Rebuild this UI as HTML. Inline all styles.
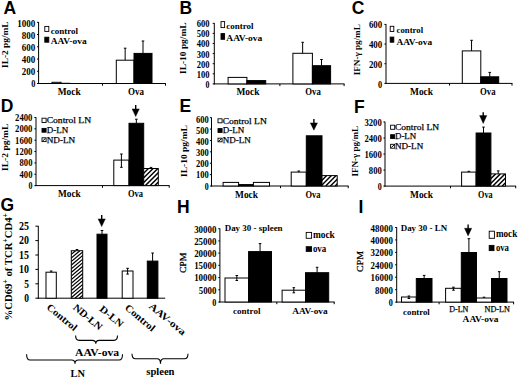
<!DOCTYPE html>
<html><head><meta charset="utf-8"><style>
html,body{margin:0;padding:0;background:#fff;width:520px;height:378px;overflow:hidden}
svg{display:block}
</style></head><body>
<svg width="520" height="378" viewBox="0 0 520 378">
<defs>
<pattern id="hatch" patternUnits="userSpaceOnUse" width="3.3" height="3.3" patternTransform="rotate(45)">
<rect width="3.3" height="3.3" fill="#fff"/><rect x="0" y="0" width="1.65" height="3.3" fill="#000"/>
</pattern>
<pattern id="hatchG" patternUnits="userSpaceOnUse" width="2.75" height="2.75" patternTransform="rotate(50)">
<rect width="2.75" height="2.75" fill="#fff"/><rect x="0" y="0" width="1.35" height="2.75" fill="#000"/>
</pattern>
</defs>
<rect width="520" height="378" fill="#fff"/>
<g font-family="'Liberation Serif', serif" font-weight="bold" fill="#000">
<text x="3.60" y="13.50" font-size="17.5" font-family="'Liberation Sans', sans-serif" >A</text>
<text x="8.00" y="44.65" font-size="9" text-anchor="middle" textLength="46.5" lengthAdjust="spacingAndGlyphs" transform="rotate(-90 8.00 44.65)" >IL-2 pg/mL</text>
<line x1="38.60" y1="22.00" x2="38.60" y2="84.00" stroke="#000" stroke-width="1"/>
<line x1="38.10" y1="83.50" x2="165.90" y2="83.50" stroke="#000" stroke-width="1"/>
<line x1="37.00" y1="83.50" x2="38.60" y2="83.50" stroke="#000" stroke-width="1"/>
<text x="35.33" y="86.90" font-size="10.14" text-anchor="end" textLength="4.19" lengthAdjust="spacingAndGlyphs" >0</text>
<line x1="37.00" y1="71.26" x2="38.60" y2="71.26" stroke="#000" stroke-width="1"/>
<text x="35.33" y="74.83" font-size="10.14" text-anchor="end" textLength="13.49" lengthAdjust="spacingAndGlyphs" >200</text>
<line x1="37.00" y1="59.02" x2="38.60" y2="59.02" stroke="#000" stroke-width="1"/>
<text x="35.33" y="62.76" font-size="10.14" text-anchor="end" textLength="13.49" lengthAdjust="spacingAndGlyphs" >400</text>
<line x1="37.00" y1="46.78" x2="38.60" y2="46.78" stroke="#000" stroke-width="1"/>
<text x="35.33" y="50.69" font-size="10.14" text-anchor="end" textLength="13.49" lengthAdjust="spacingAndGlyphs" >600</text>
<line x1="37.00" y1="34.54" x2="38.60" y2="34.54" stroke="#000" stroke-width="1"/>
<text x="35.33" y="38.62" font-size="10.14" text-anchor="end" textLength="13.49" lengthAdjust="spacingAndGlyphs" >800</text>
<line x1="37.00" y1="22.30" x2="38.60" y2="22.30" stroke="#000" stroke-width="1"/>
<text x="35.33" y="26.55" font-size="10.14" text-anchor="end" textLength="18.14" lengthAdjust="spacingAndGlyphs" >1000</text>
<line x1="102.50" y1="83.50" x2="102.50" y2="85.70" stroke="#000" stroke-width="1"/>
<line x1="165.50" y1="83.50" x2="165.50" y2="85.70" stroke="#000" stroke-width="1"/>
<rect x="52.00" y="82.30" width="9.00" height="1.20" fill="#fff" stroke="#000" stroke-width="1"/>
<rect x="61.00" y="83.30" width="9.00" height="0.20" fill="#000" stroke="#000" stroke-width="1"/>
<rect x="116.30" y="60.20" width="17.70" height="23.30" fill="#fff" stroke="#000" stroke-width="1"/>
<line x1="125.15" y1="60.20" x2="125.15" y2="48.20" stroke="#000" stroke-width="1"/>
<line x1="123.85" y1="48.20" x2="126.45" y2="48.20" stroke="#000" stroke-width="1"/>
<rect x="134.00" y="53.40" width="18.00" height="30.10" fill="#000" stroke="#000" stroke-width="1"/>
<line x1="143.00" y1="53.40" x2="143.00" y2="41.00" stroke="#000" stroke-width="1"/>
<line x1="141.70" y1="41.00" x2="144.30" y2="41.00" stroke="#000" stroke-width="1"/>
<text x="69.20" y="94.70" font-size="9.8" text-anchor="middle" textLength="23" lengthAdjust="spacingAndGlyphs" >Mock</text>
<text x="136.00" y="94.70" font-size="9.8" text-anchor="middle" textLength="16" lengthAdjust="spacingAndGlyphs" >Ova</text>
<rect x="44.80" y="26.40" width="4.00" height="5.00" fill="#fff" stroke="#000" stroke-width="0.9"/>
<text x="50.80" y="33.50" font-size="9" textLength="27.3" lengthAdjust="spacingAndGlyphs" >control</text>
<rect x="44.80" y="37.20" width="4.00" height="5.00" fill="#000" stroke="#000" stroke-width="0.9"/>
<text x="50.80" y="44.20" font-size="9" textLength="35.8" lengthAdjust="spacingAndGlyphs" >AAV-ova</text>
<text x="179.60" y="13.60" font-size="17.5" font-family="'Liberation Sans', sans-serif" >B</text>
<text x="185.80" y="48.20" font-size="9" text-anchor="middle" textLength="51.6" lengthAdjust="spacingAndGlyphs" transform="rotate(-90 185.80 48.20)" >IL-10 pg/mL</text>
<line x1="214.30" y1="23.00" x2="214.30" y2="84.40" stroke="#000" stroke-width="1"/>
<line x1="213.80" y1="83.90" x2="344.50" y2="83.90" stroke="#000" stroke-width="1"/>
<line x1="212.70" y1="83.90" x2="214.30" y2="83.90" stroke="#000" stroke-width="1"/>
<text x="209.56" y="87.76" font-size="9.59" text-anchor="end" textLength="3.96" lengthAdjust="spacingAndGlyphs" >0</text>
<line x1="212.70" y1="73.80" x2="214.30" y2="73.80" stroke="#000" stroke-width="1"/>
<text x="209.56" y="77.69" font-size="9.59" text-anchor="end" textLength="12.76" lengthAdjust="spacingAndGlyphs" >100</text>
<line x1="212.70" y1="63.70" x2="214.30" y2="63.70" stroke="#000" stroke-width="1"/>
<text x="209.56" y="67.61" font-size="9.59" text-anchor="end" textLength="12.76" lengthAdjust="spacingAndGlyphs" >200</text>
<line x1="212.70" y1="53.60" x2="214.30" y2="53.60" stroke="#000" stroke-width="1"/>
<text x="209.56" y="57.54" font-size="9.59" text-anchor="end" textLength="12.76" lengthAdjust="spacingAndGlyphs" >300</text>
<line x1="212.70" y1="43.50" x2="214.30" y2="43.50" stroke="#000" stroke-width="1"/>
<text x="209.56" y="47.46" font-size="9.59" text-anchor="end" textLength="12.76" lengthAdjust="spacingAndGlyphs" >400</text>
<line x1="212.70" y1="33.40" x2="214.30" y2="33.40" stroke="#000" stroke-width="1"/>
<text x="209.56" y="37.39" font-size="9.59" text-anchor="end" textLength="12.76" lengthAdjust="spacingAndGlyphs" >500</text>
<line x1="212.70" y1="23.30" x2="214.30" y2="23.30" stroke="#000" stroke-width="1"/>
<text x="209.56" y="27.31" font-size="9.59" text-anchor="end" textLength="12.76" lengthAdjust="spacingAndGlyphs" >600</text>
<line x1="279.90" y1="83.90" x2="279.90" y2="86.10" stroke="#000" stroke-width="1"/>
<line x1="344.10" y1="83.90" x2="344.10" y2="86.10" stroke="#000" stroke-width="1"/>
<rect x="228.10" y="77.40" width="18.80" height="6.50" fill="#fff" stroke="#000" stroke-width="1"/>
<rect x="246.90" y="80.60" width="18.80" height="3.30" fill="#000" stroke="#000" stroke-width="1"/>
<rect x="292.90" y="53.30" width="19.50" height="30.60" fill="#fff" stroke="#000" stroke-width="1"/>
<line x1="302.65" y1="53.30" x2="302.65" y2="42.30" stroke="#000" stroke-width="1"/>
<line x1="301.35" y1="42.30" x2="303.95" y2="42.30" stroke="#000" stroke-width="1"/>
<rect x="312.40" y="65.70" width="18.20" height="18.20" fill="#000" stroke="#000" stroke-width="1"/>
<line x1="321.50" y1="65.70" x2="321.50" y2="59.50" stroke="#000" stroke-width="1"/>
<line x1="320.20" y1="59.50" x2="322.80" y2="59.50" stroke="#000" stroke-width="1"/>
<text x="247.90" y="94.50" font-size="9.8" text-anchor="middle" textLength="23" lengthAdjust="spacingAndGlyphs" >Mock</text>
<text x="313.00" y="94.50" font-size="9.8" text-anchor="middle" textLength="15.5" lengthAdjust="spacingAndGlyphs" >Ova</text>
<rect x="221.00" y="21.60" width="3.60" height="6.00" fill="#fff" stroke="#000" stroke-width="0.9"/>
<text x="226.30" y="28.60" font-size="9" textLength="27.2" lengthAdjust="spacingAndGlyphs" >control</text>
<rect x="221.00" y="33.60" width="3.60" height="5.70" fill="#000" stroke="#000" stroke-width="0.9"/>
<text x="226.30" y="40.50" font-size="9" textLength="36" lengthAdjust="spacingAndGlyphs" >AAV-ova</text>
<text x="351.80" y="13.60" font-size="17.5" font-family="'Liberation Sans', sans-serif" >C</text>
<text x="360.30" y="49.75" font-size="9" text-anchor="middle" textLength="50.9" lengthAdjust="spacingAndGlyphs" transform="rotate(-90 360.30 49.75)" >IFN-γ pg/mL</text>
<line x1="386.00" y1="24.10" x2="386.00" y2="83.90" stroke="#000" stroke-width="1"/>
<line x1="385.50" y1="83.40" x2="512.40" y2="83.40" stroke="#000" stroke-width="1"/>
<line x1="384.40" y1="83.40" x2="386.00" y2="83.40" stroke="#000" stroke-width="1"/>
<text x="382.24" y="87.61" font-size="10.03" text-anchor="end" textLength="4.14" lengthAdjust="spacingAndGlyphs" >0</text>
<line x1="384.40" y1="63.73" x2="386.00" y2="63.73" stroke="#000" stroke-width="1"/>
<text x="382.24" y="67.68" font-size="10.03" text-anchor="end" textLength="13.34" lengthAdjust="spacingAndGlyphs" >200</text>
<line x1="384.40" y1="44.07" x2="386.00" y2="44.07" stroke="#000" stroke-width="1"/>
<text x="382.24" y="47.74" font-size="10.03" text-anchor="end" textLength="13.34" lengthAdjust="spacingAndGlyphs" >400</text>
<line x1="384.40" y1="24.40" x2="386.00" y2="24.40" stroke="#000" stroke-width="1"/>
<text x="382.24" y="27.81" font-size="10.03" text-anchor="end" textLength="13.34" lengthAdjust="spacingAndGlyphs" >600</text>
<line x1="449.50" y1="83.40" x2="449.50" y2="85.60" stroke="#000" stroke-width="1"/>
<line x1="512.00" y1="83.40" x2="512.00" y2="85.60" stroke="#000" stroke-width="1"/>
<rect x="462.30" y="50.90" width="18.50" height="32.50" fill="#fff" stroke="#000" stroke-width="1"/>
<line x1="471.55" y1="50.90" x2="471.55" y2="40.30" stroke="#000" stroke-width="1"/>
<line x1="470.25" y1="40.30" x2="472.85" y2="40.30" stroke="#000" stroke-width="1"/>
<rect x="480.80" y="76.80" width="17.90" height="6.60" fill="#000" stroke="#000" stroke-width="1"/>
<line x1="489.75" y1="76.80" x2="489.75" y2="72.40" stroke="#000" stroke-width="1"/>
<line x1="488.45" y1="72.40" x2="491.05" y2="72.40" stroke="#000" stroke-width="1"/>
<text x="421.50" y="94.50" font-size="9.8" text-anchor="middle" textLength="23" lengthAdjust="spacingAndGlyphs" >Mock</text>
<text x="487.80" y="94.50" font-size="9.8" text-anchor="middle" textLength="15.5" lengthAdjust="spacingAndGlyphs" >Ova</text>
<rect x="390.20" y="26.30" width="3.60" height="5.20" fill="#fff" stroke="#000" stroke-width="0.9"/>
<text x="396.50" y="32.50" font-size="9" textLength="26.6" lengthAdjust="spacingAndGlyphs" >control</text>
<rect x="390.20" y="37.10" width="3.60" height="5.10" fill="#000" stroke="#000" stroke-width="0.9"/>
<text x="396.50" y="44.60" font-size="9" textLength="35.6" lengthAdjust="spacingAndGlyphs" >AAV-ova</text>
<text x="0.80" y="112.00" font-size="17.5" font-family="'Liberation Sans', sans-serif" >D</text>
<text x="8.00" y="147.30" font-size="9" text-anchor="middle" textLength="47.4" lengthAdjust="spacingAndGlyphs" transform="rotate(-90 8.00 147.30)" >IL-2 pg/mL</text>
<line x1="36.00" y1="117.20" x2="36.00" y2="186.10" stroke="#000" stroke-width="1"/>
<line x1="35.50" y1="185.60" x2="169.60" y2="185.60" stroke="#000" stroke-width="1"/>
<line x1="34.40" y1="185.60" x2="36.00" y2="185.60" stroke="#000" stroke-width="1"/>
<text x="32.45" y="188.85" font-size="9.7" text-anchor="end" textLength="4.00" lengthAdjust="spacingAndGlyphs" >0</text>
<line x1="34.40" y1="174.25" x2="36.00" y2="174.25" stroke="#000" stroke-width="1"/>
<text x="32.45" y="177.52" font-size="9.7" text-anchor="end" textLength="12.91" lengthAdjust="spacingAndGlyphs" >400</text>
<line x1="34.40" y1="162.90" x2="36.00" y2="162.90" stroke="#000" stroke-width="1"/>
<text x="32.45" y="166.18" font-size="9.7" text-anchor="end" textLength="12.91" lengthAdjust="spacingAndGlyphs" >800</text>
<line x1="34.40" y1="151.55" x2="36.00" y2="151.55" stroke="#000" stroke-width="1"/>
<text x="32.45" y="154.85" font-size="9.7" text-anchor="end" textLength="17.36" lengthAdjust="spacingAndGlyphs" >1200</text>
<line x1="34.40" y1="140.20" x2="36.00" y2="140.20" stroke="#000" stroke-width="1"/>
<text x="32.45" y="143.52" font-size="9.7" text-anchor="end" textLength="17.36" lengthAdjust="spacingAndGlyphs" >1600</text>
<line x1="34.40" y1="128.85" x2="36.00" y2="128.85" stroke="#000" stroke-width="1"/>
<text x="32.45" y="132.18" font-size="9.7" text-anchor="end" textLength="17.36" lengthAdjust="spacingAndGlyphs" >2000</text>
<line x1="34.40" y1="117.50" x2="36.00" y2="117.50" stroke="#000" stroke-width="1"/>
<text x="32.45" y="120.85" font-size="9.7" text-anchor="end" textLength="17.36" lengthAdjust="spacingAndGlyphs" >2400</text>
<line x1="102.50" y1="185.60" x2="102.50" y2="187.80" stroke="#000" stroke-width="1"/>
<line x1="169.20" y1="185.60" x2="169.20" y2="187.80" stroke="#000" stroke-width="1"/>
<rect x="113.80" y="160.10" width="15.20" height="25.50" fill="#fff" stroke="#000" stroke-width="1"/>
<line x1="121.40" y1="160.10" x2="121.40" y2="154.00" stroke="#000" stroke-width="1"/>
<line x1="120.10" y1="154.00" x2="122.70" y2="154.00" stroke="#000" stroke-width="1"/>
<line x1="121.40" y1="160.10" x2="121.40" y2="167.30" stroke="#000" stroke-width="1"/>
<line x1="120.10" y1="167.30" x2="122.70" y2="167.30" stroke="#000" stroke-width="1"/>
<rect x="129.00" y="123.30" width="14.70" height="62.30" fill="#000" stroke="#000" stroke-width="1"/>
<line x1="136.35" y1="123.30" x2="136.35" y2="119.20" stroke="#000" stroke-width="1"/>
<line x1="135.05" y1="119.20" x2="137.65" y2="119.20" stroke="#000" stroke-width="1"/>
<clipPath id="c1"><rect x="143.70" y="168.50" width="14.60" height="17.10"/></clipPath>
<rect x="143.70" y="168.50" width="14.60" height="17.10" fill="#fff"/>
<path clip-path="url(#c1)" d="M121.90,185.60 L139.00,168.50 M126.60,185.60 L143.70,168.50 M131.30,185.60 L148.40,168.50 M136.00,185.60 L153.10,168.50 M140.70,185.60 L157.80,168.50 M145.40,185.60 L162.50,168.50 M150.10,185.60 L167.20,168.50 M154.80,185.60 L171.90,168.50 M159.50,185.60 L176.60,168.50" stroke="#000" stroke-width="1.43" fill="none"/>
<rect x="143.70" y="168.50" width="14.60" height="17.10" fill="none" stroke="#000" stroke-width="1"/>
<line x1="151.00" y1="168.50" x2="151.00" y2="167.40" stroke="#000" stroke-width="1"/>
<line x1="149.70" y1="167.40" x2="152.30" y2="167.40" stroke="#000" stroke-width="1"/>
<line x1="135.70" y1="105.00" x2="135.70" y2="109.90" stroke="#000" stroke-width="1.4"/>
<path d="M132.10,108.90 L139.30,108.90 L135.70,116.60 Z" fill="#000" stroke="#000" stroke-width="0.4"/>
<text x="69.40" y="196.80" font-size="9.8" text-anchor="middle" textLength="22.8" lengthAdjust="spacingAndGlyphs" >Mock</text>
<text x="135.50" y="196.80" font-size="9.8" text-anchor="middle" textLength="15" lengthAdjust="spacingAndGlyphs" >Ova</text>
<rect x="42.00" y="118.20" width="4.10" height="4.30" fill="#fff" stroke="#000" stroke-width="0.9"/>
<text x="46.70" y="123.40" font-size="9" font-weight="normal" textLength="44.4" lengthAdjust="spacingAndGlyphs" stroke="#000" stroke-width="0.25">Control LN</text>
<rect x="42.00" y="128.40" width="4.10" height="3.80" fill="#000" stroke="#000" stroke-width="0.9"/>
<text x="46.70" y="132.60" font-size="9" font-weight="normal" textLength="21.5" lengthAdjust="spacingAndGlyphs" stroke="#000" stroke-width="0.25">D-LN</text>
<rect x="42.00" y="137.80" width="4.10" height="3.80" fill="#fff" stroke="#000" stroke-width="0.9"/>
<line x1="42.60" y1="141.00" x2="45.50" y2="138.40" stroke="#000" stroke-width="1.0"/>
<text x="46.70" y="142.80" font-size="9" font-weight="normal" textLength="28.5" lengthAdjust="spacingAndGlyphs" stroke="#000" stroke-width="0.25">ND-LN</text>
<text x="179.60" y="112.00" font-size="17.5" font-family="'Liberation Sans', sans-serif" >E</text>
<text x="187.00" y="151.00" font-size="9" text-anchor="middle" textLength="51.8" lengthAdjust="spacingAndGlyphs" transform="rotate(-90 187.00 151.00)" >IL-10 pg/mL</text>
<line x1="211.50" y1="117.40" x2="211.50" y2="186.50" stroke="#000" stroke-width="1"/>
<line x1="211.00" y1="186.00" x2="348.60" y2="186.00" stroke="#000" stroke-width="1"/>
<line x1="209.90" y1="186.00" x2="211.50" y2="186.00" stroke="#000" stroke-width="1"/>
<text x="208.76" y="189.61" font-size="9.59" text-anchor="end" textLength="3.96" lengthAdjust="spacingAndGlyphs" >0</text>
<line x1="209.90" y1="174.62" x2="211.50" y2="174.62" stroke="#000" stroke-width="1"/>
<text x="208.76" y="178.44" font-size="9.59" text-anchor="end" textLength="12.76" lengthAdjust="spacingAndGlyphs" >100</text>
<line x1="209.90" y1="163.23" x2="211.50" y2="163.23" stroke="#000" stroke-width="1"/>
<text x="208.76" y="167.26" font-size="9.59" text-anchor="end" textLength="12.76" lengthAdjust="spacingAndGlyphs" >200</text>
<line x1="209.90" y1="151.85" x2="211.50" y2="151.85" stroke="#000" stroke-width="1"/>
<text x="208.76" y="156.09" font-size="9.59" text-anchor="end" textLength="12.76" lengthAdjust="spacingAndGlyphs" >300</text>
<line x1="209.90" y1="140.47" x2="211.50" y2="140.47" stroke="#000" stroke-width="1"/>
<text x="208.76" y="144.91" font-size="9.59" text-anchor="end" textLength="12.76" lengthAdjust="spacingAndGlyphs" >400</text>
<line x1="209.90" y1="129.08" x2="211.50" y2="129.08" stroke="#000" stroke-width="1"/>
<text x="208.76" y="133.74" font-size="9.59" text-anchor="end" textLength="12.76" lengthAdjust="spacingAndGlyphs" >500</text>
<line x1="209.90" y1="117.70" x2="211.50" y2="117.70" stroke="#000" stroke-width="1"/>
<text x="208.76" y="122.56" font-size="9.59" text-anchor="end" textLength="12.76" lengthAdjust="spacingAndGlyphs" >600</text>
<line x1="280.50" y1="186.00" x2="280.50" y2="188.20" stroke="#000" stroke-width="1"/>
<line x1="348.20" y1="186.00" x2="348.20" y2="188.20" stroke="#000" stroke-width="1"/>
<rect x="223.10" y="182.40" width="15.50" height="3.60" fill="#fff" stroke="#000" stroke-width="1"/>
<rect x="238.60" y="184.60" width="14.80" height="1.40" fill="#000" stroke="#000" stroke-width="1"/>
<rect x="253.40" y="182.40" width="16.10" height="3.60" fill="#fff" stroke="#000" stroke-width="1"/>
<rect x="291.20" y="172.10" width="15.10" height="13.90" fill="#fff" stroke="#000" stroke-width="1"/>
<line x1="298.75" y1="172.10" x2="298.75" y2="171.00" stroke="#000" stroke-width="1"/>
<line x1="297.45" y1="171.00" x2="300.05" y2="171.00" stroke="#000" stroke-width="1"/>
<rect x="306.30" y="135.80" width="15.70" height="50.20" fill="#000" stroke="#000" stroke-width="1"/>
<clipPath id="c2"><rect x="322.00" y="175.60" width="15.20" height="10.40"/></clipPath>
<rect x="322.00" y="175.60" width="15.20" height="10.40" fill="#fff"/>
<path clip-path="url(#c2)" d="M306.90,186.00 L317.30,175.60 M311.60,186.00 L322.00,175.60 M316.30,186.00 L326.70,175.60 M321.00,186.00 L331.40,175.60 M325.70,186.00 L336.10,175.60 M330.40,186.00 L340.80,175.60 M335.10,186.00 L345.50,175.60 M339.80,186.00 L350.20,175.60" stroke="#000" stroke-width="1.43" fill="none"/>
<rect x="322.00" y="175.60" width="15.20" height="10.40" fill="none" stroke="#000" stroke-width="1"/>
<line x1="313.90" y1="119.00" x2="313.90" y2="123.90" stroke="#000" stroke-width="1.4"/>
<path d="M310.30,122.90 L317.50,122.90 L313.90,130.20 Z" fill="#000" stroke="#000" stroke-width="0.4"/>
<text x="246.50" y="197.50" font-size="9.8" text-anchor="middle" textLength="23" lengthAdjust="spacingAndGlyphs" >Mock</text>
<text x="313.00" y="197.50" font-size="9.8" text-anchor="middle" textLength="15" lengthAdjust="spacingAndGlyphs" >Ova</text>
<rect x="218.00" y="118.80" width="4.10" height="4.00" fill="#fff" stroke="#000" stroke-width="0.9"/>
<text x="222.70" y="124.00" font-size="9" font-weight="normal" textLength="44.1" lengthAdjust="spacingAndGlyphs" stroke="#000" stroke-width="0.25">Control LN</text>
<rect x="218.00" y="128.60" width="4.10" height="3.80" fill="#000" stroke="#000" stroke-width="0.9"/>
<text x="222.70" y="132.80" font-size="9" font-weight="normal" textLength="21.5" lengthAdjust="spacingAndGlyphs" stroke="#000" stroke-width="0.25">D-LN</text>
<rect x="218.00" y="138.20" width="4.10" height="3.60" fill="#fff" stroke="#000" stroke-width="0.9"/>
<line x1="218.60" y1="141.20" x2="221.50" y2="138.80" stroke="#000" stroke-width="1.0"/>
<text x="222.70" y="142.80" font-size="9" font-weight="normal" textLength="28.0" lengthAdjust="spacingAndGlyphs" stroke="#000" stroke-width="0.25">ND-LN</text>
<text x="353.90" y="112.50" font-size="17.5" font-family="'Liberation Sans', sans-serif" >F</text>
<text x="357.90" y="151.25" font-size="9" text-anchor="middle" textLength="50.7" lengthAdjust="spacingAndGlyphs" transform="rotate(-90 357.90 151.25)" >IFN-γ pg/mL</text>
<line x1="385.00" y1="121.70" x2="385.00" y2="186.60" stroke="#000" stroke-width="1"/>
<line x1="384.50" y1="186.10" x2="516.10" y2="186.10" stroke="#000" stroke-width="1"/>
<line x1="383.40" y1="186.10" x2="385.00" y2="186.10" stroke="#000" stroke-width="1"/>
<text x="381.75" y="189.85" font-size="9.7" text-anchor="end" textLength="4.00" lengthAdjust="spacingAndGlyphs" >0</text>
<line x1="383.40" y1="170.07" x2="385.00" y2="170.07" stroke="#000" stroke-width="1"/>
<text x="381.75" y="173.82" font-size="9.7" text-anchor="end" textLength="12.91" lengthAdjust="spacingAndGlyphs" >800</text>
<line x1="383.40" y1="154.05" x2="385.00" y2="154.05" stroke="#000" stroke-width="1"/>
<text x="381.75" y="157.80" font-size="9.7" text-anchor="end" textLength="17.36" lengthAdjust="spacingAndGlyphs" >1600</text>
<line x1="383.40" y1="138.03" x2="385.00" y2="138.03" stroke="#000" stroke-width="1"/>
<text x="381.75" y="141.77" font-size="9.7" text-anchor="end" textLength="17.36" lengthAdjust="spacingAndGlyphs" >2400</text>
<line x1="383.40" y1="122.00" x2="385.00" y2="122.00" stroke="#000" stroke-width="1"/>
<text x="381.75" y="125.75" font-size="9.7" text-anchor="end" textLength="17.36" lengthAdjust="spacingAndGlyphs" >3200</text>
<line x1="450.50" y1="186.10" x2="450.50" y2="188.30" stroke="#000" stroke-width="1"/>
<line x1="515.70" y1="186.10" x2="515.70" y2="188.30" stroke="#000" stroke-width="1"/>
<rect x="461.60" y="172.10" width="14.50" height="14.00" fill="#fff" stroke="#000" stroke-width="1"/>
<line x1="468.85" y1="172.10" x2="468.85" y2="171.30" stroke="#000" stroke-width="1"/>
<line x1="467.55" y1="171.30" x2="470.15" y2="171.30" stroke="#000" stroke-width="1"/>
<rect x="476.10" y="133.00" width="14.80" height="53.10" fill="#000" stroke="#000" stroke-width="1"/>
<line x1="483.50" y1="133.00" x2="483.50" y2="127.10" stroke="#000" stroke-width="1"/>
<line x1="482.20" y1="127.10" x2="484.80" y2="127.10" stroke="#000" stroke-width="1"/>
<clipPath id="c3"><rect x="490.90" y="173.90" width="14.60" height="12.20"/></clipPath>
<rect x="490.90" y="173.90" width="14.60" height="12.20" fill="#fff"/>
<path clip-path="url(#c3)" d="M474.00,186.10 L486.20,173.90 M478.70,186.10 L490.90,173.90 M483.40,186.10 L495.60,173.90 M488.10,186.10 L500.30,173.90 M492.80,186.10 L505.00,173.90 M497.50,186.10 L509.70,173.90 M502.20,186.10 L514.40,173.90 M506.90,186.10 L519.10,173.90" stroke="#000" stroke-width="1.43" fill="none"/>
<rect x="490.90" y="173.90" width="14.60" height="12.20" fill="none" stroke="#000" stroke-width="1"/>
<line x1="498.20" y1="173.90" x2="498.20" y2="170.90" stroke="#000" stroke-width="1"/>
<line x1="496.90" y1="170.90" x2="499.50" y2="170.90" stroke="#000" stroke-width="1"/>
<line x1="483.20" y1="112.30" x2="483.20" y2="116.60" stroke="#000" stroke-width="1.4"/>
<path d="M479.60,115.60 L486.80,115.60 L483.20,123.50 Z" fill="#000" stroke="#000" stroke-width="0.4"/>
<text x="421.50" y="197.50" font-size="9.8" text-anchor="middle" textLength="23" lengthAdjust="spacingAndGlyphs" >Mock</text>
<text x="485.30" y="197.50" font-size="9.8" text-anchor="middle" textLength="14.5" lengthAdjust="spacingAndGlyphs" >Ova</text>
<rect x="390.60" y="125.20" width="4.10" height="4.10" fill="#fff" stroke="#000" stroke-width="0.9"/>
<text x="395.00" y="130.10" font-size="9" font-weight="normal" textLength="44.1" lengthAdjust="spacingAndGlyphs" stroke="#000" stroke-width="0.25">Control LN</text>
<rect x="390.60" y="134.70" width="4.10" height="3.80" fill="#000" stroke="#000" stroke-width="0.9"/>
<text x="395.00" y="139.30" font-size="9" font-weight="normal" textLength="21.2" lengthAdjust="spacingAndGlyphs" stroke="#000" stroke-width="0.25">D-LN</text>
<rect x="390.60" y="144.30" width="4.10" height="3.90" fill="#fff" stroke="#000" stroke-width="0.9"/>
<line x1="391.20" y1="147.60" x2="394.10" y2="144.90" stroke="#000" stroke-width="1.0"/>
<text x="395.00" y="149.20" font-size="9" font-weight="normal" textLength="28.2" lengthAdjust="spacingAndGlyphs" stroke="#000" stroke-width="0.25">ND-LN</text>
<text x="0.50" y="211.20" font-size="17.5" font-family="'Liberation Sans', sans-serif" >G</text>
<text x="11.6" y="266.70" font-size="11" text-anchor="middle" textLength="107.4" lengthAdjust="spacingAndGlyphs" transform="rotate(-90 11.6 266.70)">%CD69<tspan dy="-3.6" font-size="8">+</tspan><tspan dy="3.6"> of TCR</tspan><tspan dy="-3.6" font-size="8">+</tspan><tspan dy="3.6">CD4</tspan><tspan dy="-3.6" font-size="8">+</tspan></text>
<line x1="38.30" y1="225.90" x2="38.30" y2="298.70" stroke="#000" stroke-width="1"/>
<line x1="37.80" y1="298.20" x2="165.20" y2="298.20" stroke="#000" stroke-width="1"/>
<line x1="35.40" y1="298.20" x2="38.30" y2="298.20" stroke="#000" stroke-width="1"/>
<text x="29.08" y="302.23" font-size="11.45" text-anchor="end" textLength="4.72" lengthAdjust="spacingAndGlyphs" >0</text>
<line x1="35.40" y1="283.80" x2="38.30" y2="283.80" stroke="#000" stroke-width="1"/>
<text x="29.08" y="287.79" font-size="11.45" text-anchor="end" textLength="4.72" lengthAdjust="spacingAndGlyphs" >5</text>
<line x1="35.40" y1="269.40" x2="38.30" y2="269.40" stroke="#000" stroke-width="1"/>
<text x="29.08" y="273.35" font-size="11.45" text-anchor="end" textLength="9.97" lengthAdjust="spacingAndGlyphs" >10</text>
<line x1="35.40" y1="255.00" x2="38.30" y2="255.00" stroke="#000" stroke-width="1"/>
<text x="29.08" y="258.91" font-size="11.45" text-anchor="end" textLength="9.97" lengthAdjust="spacingAndGlyphs" >15</text>
<line x1="35.40" y1="240.60" x2="38.30" y2="240.60" stroke="#000" stroke-width="1"/>
<text x="29.08" y="244.47" font-size="11.45" text-anchor="end" textLength="9.97" lengthAdjust="spacingAndGlyphs" >20</text>
<line x1="35.40" y1="226.20" x2="38.30" y2="226.20" stroke="#000" stroke-width="1"/>
<text x="29.08" y="230.03" font-size="11.45" text-anchor="end" textLength="9.97" lengthAdjust="spacingAndGlyphs" >25</text>
<rect x="46.00" y="272.20" width="10.30" height="26.00" fill="#fff" stroke="#000" stroke-width="1"/>
<line x1="51.15" y1="272.20" x2="51.15" y2="271.00" stroke="#000" stroke-width="1"/>
<line x1="49.85" y1="271.00" x2="52.45" y2="271.00" stroke="#000" stroke-width="1"/>
<clipPath id="c4"><rect x="71.30" y="250.70" width="11.40" height="47.50"/></clipPath>
<rect x="71.30" y="250.70" width="11.40" height="47.50" fill="#fff"/>
<path clip-path="url(#c4)" d="M10.39,298.20 L67.00,250.70 M14.69,298.20 L71.30,250.70 M18.99,298.20 L75.60,250.70 M23.29,298.20 L79.90,250.70 M27.59,298.20 L84.20,250.70 M31.89,298.20 L88.50,250.70 M36.19,298.20 L92.80,250.70 M40.49,298.20 L97.10,250.70 M44.79,298.20 L101.40,250.70 M49.09,298.20 L105.70,250.70 M53.39,298.20 L110.00,250.70 M57.69,298.20 L114.30,250.70 M61.99,298.20 L118.60,250.70 M66.29,298.20 L122.90,250.70 M70.59,298.20 L127.20,250.70 M74.89,298.20 L131.50,250.70 M79.19,298.20 L135.80,250.70 M83.49,298.20 L140.10,250.70" stroke="#000" stroke-width="1.19" fill="none"/>
<rect x="71.30" y="250.70" width="11.40" height="47.50" fill="none" stroke="#000" stroke-width="1"/>
<line x1="77.00" y1="250.70" x2="77.00" y2="249.50" stroke="#000" stroke-width="1"/>
<line x1="75.70" y1="249.50" x2="78.30" y2="249.50" stroke="#000" stroke-width="1"/>
<rect x="97.00" y="234.20" width="10.00" height="64.00" fill="#000" stroke="#000" stroke-width="1"/>
<line x1="102.00" y1="234.20" x2="102.00" y2="230.50" stroke="#000" stroke-width="1"/>
<line x1="100.70" y1="230.50" x2="103.30" y2="230.50" stroke="#000" stroke-width="1"/>
<rect x="122.20" y="271.00" width="10.80" height="27.20" fill="#fff" stroke="#000" stroke-width="1"/>
<line x1="127.60" y1="271.00" x2="127.60" y2="268.30" stroke="#000" stroke-width="1"/>
<line x1="126.30" y1="268.30" x2="128.90" y2="268.30" stroke="#000" stroke-width="1"/>
<line x1="127.60" y1="271.00" x2="127.60" y2="274.10" stroke="#000" stroke-width="1"/>
<line x1="126.30" y1="274.10" x2="128.90" y2="274.10" stroke="#000" stroke-width="1"/>
<rect x="147.30" y="261.10" width="10.60" height="37.10" fill="#000" stroke="#000" stroke-width="1"/>
<line x1="152.60" y1="261.10" x2="152.60" y2="253.00" stroke="#000" stroke-width="1"/>
<line x1="151.30" y1="253.00" x2="153.90" y2="253.00" stroke="#000" stroke-width="1"/>
<line x1="101.70" y1="215.00" x2="101.70" y2="219.90" stroke="#000" stroke-width="1.4"/>
<path d="M98.10,218.90 L105.30,218.90 L101.70,226.60 Z" fill="#000" stroke="#000" stroke-width="0.4"/>
<text x="46.00" y="308.20" font-size="10" textLength="36.3" lengthAdjust="spacingAndGlyphs" transform="rotate(40 46.00 308.20)" >Control</text>
<text x="72.40" y="308.40" font-size="10" textLength="34.7" lengthAdjust="spacingAndGlyphs" transform="rotate(40 72.40 308.40)" >ND-LN</text>
<text x="98.70" y="309.90" font-size="10" textLength="28.0" lengthAdjust="spacingAndGlyphs" transform="rotate(40 98.70 309.90)" >D-LN</text>
<text x="124.20" y="308.80" font-size="10" textLength="36.0" lengthAdjust="spacingAndGlyphs" transform="rotate(40 124.20 308.80)" >Control</text>
<text x="148.30" y="307.20" font-size="10" textLength="44.5" lengthAdjust="spacingAndGlyphs" transform="rotate(40 148.30 307.20)" >AAV-ova</text>
<text x="177.00" y="212.60" font-size="17.5" font-family="'Liberation Sans', sans-serif" >H</text>
<text x="186.40" y="262.90" font-size="9" font-weight="normal" text-anchor="middle" textLength="20.4" lengthAdjust="spacingAndGlyphs" transform="rotate(-90 186.40 262.90)" stroke="#000" stroke-width="0.25">CPM</text>
<line x1="219.90" y1="228.40" x2="219.90" y2="302.50" stroke="#000" stroke-width="1"/>
<line x1="219.40" y1="302.00" x2="334.60" y2="302.00" stroke="#000" stroke-width="1"/>
<line x1="218.30" y1="302.00" x2="219.90" y2="302.00" stroke="#000" stroke-width="1"/>
<text x="216.44" y="305.72" font-size="9.92" text-anchor="end" textLength="4.09" lengthAdjust="spacingAndGlyphs" >0</text>
<line x1="218.30" y1="289.78" x2="219.90" y2="289.78" stroke="#000" stroke-width="1"/>
<text x="216.44" y="293.57" font-size="9.92" text-anchor="end" textLength="17.75" lengthAdjust="spacingAndGlyphs" >5000</text>
<line x1="218.30" y1="277.57" x2="219.90" y2="277.57" stroke="#000" stroke-width="1"/>
<text x="216.44" y="281.42" font-size="9.92" text-anchor="end" textLength="22.30" lengthAdjust="spacingAndGlyphs" >10000</text>
<line x1="218.30" y1="265.35" x2="219.90" y2="265.35" stroke="#000" stroke-width="1"/>
<text x="216.44" y="269.27" font-size="9.92" text-anchor="end" textLength="22.30" lengthAdjust="spacingAndGlyphs" >15000</text>
<line x1="218.30" y1="253.13" x2="219.90" y2="253.13" stroke="#000" stroke-width="1"/>
<text x="216.44" y="257.12" font-size="9.92" text-anchor="end" textLength="22.30" lengthAdjust="spacingAndGlyphs" >20000</text>
<line x1="218.30" y1="240.92" x2="219.90" y2="240.92" stroke="#000" stroke-width="1"/>
<text x="216.44" y="244.97" font-size="9.92" text-anchor="end" textLength="22.30" lengthAdjust="spacingAndGlyphs" >25000</text>
<line x1="218.30" y1="228.70" x2="219.90" y2="228.70" stroke="#000" stroke-width="1"/>
<text x="216.44" y="232.82" font-size="9.92" text-anchor="end" textLength="22.30" lengthAdjust="spacingAndGlyphs" >30000</text>
<line x1="276.80" y1="302.00" x2="276.80" y2="304.20" stroke="#000" stroke-width="1"/>
<line x1="334.20" y1="302.00" x2="334.20" y2="304.20" stroke="#000" stroke-width="1"/>
<rect x="225.00" y="278.00" width="23.60" height="24.00" fill="#fff" stroke="#000" stroke-width="1"/>
<line x1="236.80" y1="278.00" x2="236.80" y2="275.50" stroke="#000" stroke-width="1"/>
<line x1="235.50" y1="275.50" x2="238.10" y2="275.50" stroke="#000" stroke-width="1"/>
<line x1="236.80" y1="278.00" x2="236.80" y2="280.50" stroke="#000" stroke-width="1"/>
<line x1="235.50" y1="280.50" x2="238.10" y2="280.50" stroke="#000" stroke-width="1"/>
<rect x="248.60" y="251.60" width="22.90" height="50.40" fill="#000" stroke="#000" stroke-width="1"/>
<line x1="260.05" y1="251.60" x2="260.05" y2="243.60" stroke="#000" stroke-width="1"/>
<line x1="258.75" y1="243.60" x2="261.35" y2="243.60" stroke="#000" stroke-width="1"/>
<rect x="282.10" y="290.20" width="23.40" height="11.80" fill="#fff" stroke="#000" stroke-width="1"/>
<line x1="293.80" y1="290.20" x2="293.80" y2="287.70" stroke="#000" stroke-width="1"/>
<line x1="292.50" y1="287.70" x2="295.10" y2="287.70" stroke="#000" stroke-width="1"/>
<line x1="293.80" y1="290.20" x2="293.80" y2="292.80" stroke="#000" stroke-width="1"/>
<line x1="292.50" y1="292.80" x2="295.10" y2="292.80" stroke="#000" stroke-width="1"/>
<rect x="305.50" y="272.70" width="23.20" height="29.30" fill="#000" stroke="#000" stroke-width="1"/>
<line x1="317.10" y1="272.70" x2="317.10" y2="267.30" stroke="#000" stroke-width="1"/>
<line x1="315.80" y1="267.30" x2="318.40" y2="267.30" stroke="#000" stroke-width="1"/>
<text x="224.70" y="231.00" font-size="9" textLength="57.9" lengthAdjust="spacingAndGlyphs" >Day 30 - spleen</text>
<text x="233.00" y="314.00" font-size="9" textLength="27.5" lengthAdjust="spacingAndGlyphs" >control</text>
<text x="292.30" y="314.00" font-size="9" textLength="35.3" lengthAdjust="spacingAndGlyphs" >AAV-ova</text>
<rect x="306.20" y="232.40" width="5.40" height="5.90" fill="#fff" stroke="#000" stroke-width="0.9"/>
<text x="312.90" y="238.30" font-size="9.3" textLength="21.9" lengthAdjust="spacingAndGlyphs" >mock</text>
<rect x="306.20" y="246.70" width="5.40" height="4.70" fill="#000" stroke="#000" stroke-width="0.9"/>
<text x="312.90" y="251.50" font-size="9.3" textLength="13.4" lengthAdjust="spacingAndGlyphs" >ova</text>
<text x="358.40" y="212.80" font-size="17.5" font-family="'Liberation Sans', sans-serif" >I</text>
<text x="362.70" y="261.50" font-size="9" font-weight="normal" text-anchor="middle" textLength="20.8" lengthAdjust="spacingAndGlyphs" transform="rotate(-90 362.70 261.50)" stroke="#000" stroke-width="0.25">CPM</text>
<line x1="396.70" y1="227.20" x2="396.70" y2="302.60" stroke="#000" stroke-width="1"/>
<line x1="396.20" y1="302.10" x2="514.00" y2="302.10" stroke="#000" stroke-width="1"/>
<line x1="395.10" y1="302.10" x2="396.70" y2="302.10" stroke="#000" stroke-width="1"/>
<text x="392.85" y="305.92" font-size="9.92" text-anchor="end" textLength="4.09" lengthAdjust="spacingAndGlyphs" >0</text>
<line x1="395.10" y1="289.67" x2="396.70" y2="289.67" stroke="#000" stroke-width="1"/>
<text x="392.85" y="293.52" font-size="9.92" text-anchor="end" textLength="17.75" lengthAdjust="spacingAndGlyphs" >8000</text>
<line x1="395.10" y1="277.23" x2="396.70" y2="277.23" stroke="#000" stroke-width="1"/>
<text x="392.85" y="281.12" font-size="9.92" text-anchor="end" textLength="22.30" lengthAdjust="spacingAndGlyphs" >16000</text>
<line x1="395.10" y1="264.80" x2="396.70" y2="264.80" stroke="#000" stroke-width="1"/>
<text x="392.85" y="268.72" font-size="9.92" text-anchor="end" textLength="22.30" lengthAdjust="spacingAndGlyphs" >24000</text>
<line x1="395.10" y1="252.37" x2="396.70" y2="252.37" stroke="#000" stroke-width="1"/>
<text x="392.85" y="256.32" font-size="9.92" text-anchor="end" textLength="22.30" lengthAdjust="spacingAndGlyphs" >32000</text>
<line x1="395.10" y1="239.93" x2="396.70" y2="239.93" stroke="#000" stroke-width="1"/>
<text x="392.85" y="243.92" font-size="9.92" text-anchor="end" textLength="22.30" lengthAdjust="spacingAndGlyphs" >40000</text>
<line x1="395.10" y1="227.50" x2="396.70" y2="227.50" stroke="#000" stroke-width="1"/>
<text x="392.85" y="231.52" font-size="9.92" text-anchor="end" textLength="22.30" lengthAdjust="spacingAndGlyphs" >48000</text>
<line x1="439.10" y1="302.10" x2="439.10" y2="304.30" stroke="#000" stroke-width="1"/>
<line x1="513.60" y1="302.10" x2="513.60" y2="304.30" stroke="#000" stroke-width="1"/>
<rect x="401.50" y="297.00" width="14.80" height="5.10" fill="#fff" stroke="#000" stroke-width="1"/>
<line x1="408.90" y1="297.00" x2="408.90" y2="296.00" stroke="#000" stroke-width="1"/>
<line x1="407.60" y1="296.00" x2="410.20" y2="296.00" stroke="#000" stroke-width="1"/>
<line x1="408.90" y1="297.00" x2="408.90" y2="298.50" stroke="#000" stroke-width="1"/>
<line x1="407.60" y1="298.50" x2="410.20" y2="298.50" stroke="#000" stroke-width="1"/>
<rect x="416.30" y="278.50" width="15.70" height="23.60" fill="#000" stroke="#000" stroke-width="1"/>
<line x1="424.15" y1="278.50" x2="424.15" y2="275.40" stroke="#000" stroke-width="1"/>
<line x1="422.85" y1="275.40" x2="425.45" y2="275.40" stroke="#000" stroke-width="1"/>
<rect x="445.60" y="288.30" width="15.70" height="13.80" fill="#fff" stroke="#000" stroke-width="1"/>
<line x1="453.45" y1="288.30" x2="453.45" y2="287.20" stroke="#000" stroke-width="1"/>
<line x1="452.15" y1="287.20" x2="454.75" y2="287.20" stroke="#000" stroke-width="1"/>
<line x1="453.45" y1="288.30" x2="453.45" y2="290.20" stroke="#000" stroke-width="1"/>
<line x1="452.15" y1="290.20" x2="454.75" y2="290.20" stroke="#000" stroke-width="1"/>
<rect x="461.30" y="252.50" width="15.20" height="49.60" fill="#000" stroke="#000" stroke-width="1"/>
<line x1="468.90" y1="252.50" x2="468.90" y2="238.70" stroke="#000" stroke-width="1"/>
<line x1="467.60" y1="238.70" x2="470.20" y2="238.70" stroke="#000" stroke-width="1"/>
<rect x="476.50" y="298.00" width="15.00" height="4.10" fill="#fff" stroke="#000" stroke-width="1"/>
<line x1="484.00" y1="298.00" x2="484.00" y2="297.20" stroke="#000" stroke-width="1"/>
<line x1="482.70" y1="297.20" x2="485.30" y2="297.20" stroke="#000" stroke-width="1"/>
<rect x="491.50" y="278.50" width="15.50" height="23.60" fill="#000" stroke="#000" stroke-width="1"/>
<line x1="499.25" y1="278.50" x2="499.25" y2="271.70" stroke="#000" stroke-width="1"/>
<line x1="497.95" y1="271.70" x2="500.55" y2="271.70" stroke="#000" stroke-width="1"/>
<line x1="468.10" y1="224.60" x2="468.10" y2="229.30" stroke="#000" stroke-width="1.4"/>
<path d="M464.50,228.30 L471.70,228.30 L468.10,235.90 Z" fill="#000" stroke="#000" stroke-width="0.4"/>
<text x="400.70" y="231.40" font-size="9" textLength="46.4" lengthAdjust="spacingAndGlyphs" >Day 30 - LN</text>
<text x="403.10" y="314.60" font-size="9" textLength="26.7" lengthAdjust="spacingAndGlyphs" >control</text>
<text x="449.20" y="312.30" font-size="8.5" font-weight="normal" textLength="19.2" lengthAdjust="spacingAndGlyphs" stroke="#000" stroke-width="0.25">D-LN</text>
<text x="484.50" y="312.30" font-size="8.5" font-weight="normal" textLength="25.4" lengthAdjust="spacingAndGlyphs" stroke="#000" stroke-width="0.25">ND-LN</text>
<text x="462.60" y="322.20" font-size="9" textLength="35.8" lengthAdjust="spacingAndGlyphs" >AAV-ova</text>
<rect x="489.20" y="231.20" width="5.20" height="7.10" fill="#fff" stroke="#000" stroke-width="0.9"/>
<text x="495.90" y="236.70" font-size="9.3" textLength="21.4" lengthAdjust="spacingAndGlyphs" >mock</text>
<rect x="489.20" y="245.40" width="4.80" height="5.20" fill="#000" stroke="#000" stroke-width="0.9"/>
<text x="495.90" y="250.60" font-size="9.3" textLength="13.1" lengthAdjust="spacingAndGlyphs" >ova</text>
<path d="M75.60,335.60 Q75.60,340.40 79.10,340.40 L92.30,340.40 Q95.80,340.40 95.80,343.80 Q95.80,340.40 99.30,340.40 L114.00,340.40 Q117.50,340.40 117.50,335.60" fill="none" stroke="#000" stroke-width="1.1"/>
<text x="75.00" y="355.50" font-size="10" textLength="44.2" lengthAdjust="spacingAndGlyphs" >AAV-ova</text>
<path d="M26.60,354.20 Q26.60,360.00 30.10,360.00 L71.50,360.00 Q75.00,360.00 75.00,363.70 Q75.00,360.00 78.50,360.00 L119.00,360.00 Q122.50,360.00 122.50,354.20" fill="none" stroke="#000" stroke-width="1.1"/>
<text x="70.50" y="376.60" font-size="10" textLength="14.4" lengthAdjust="spacingAndGlyphs" >LN</text>
<path d="M132.00,353.80 Q132.00,358.80 135.50,358.80 L157.00,358.80 Q160.50,358.80 160.50,363.70 Q160.50,358.80 164.00,358.80 L184.50,358.80 Q188.00,358.80 188.00,353.80" fill="none" stroke="#000" stroke-width="1.1"/>
<text x="146.30" y="374.50" font-size="10" textLength="28.2" lengthAdjust="spacingAndGlyphs" >spleen</text>
</g>
</svg>
</body></html>
